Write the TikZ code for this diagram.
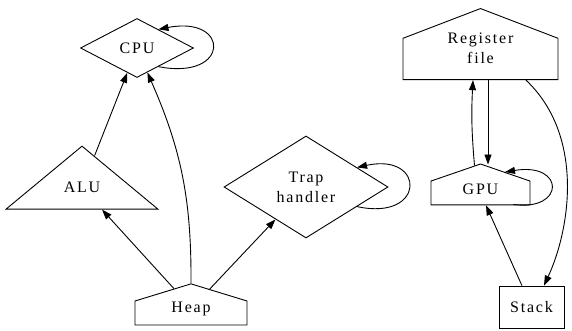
\documentclass[tikz,border=0pt]{standalone}
\usepackage{fontspec}
\setmainfont{Liberation Serif}[LetterSpace=11]
\usetikzlibrary{shapes.geometric,shapes.symbols,arrows.meta}

\tikzset{
  box/.style={draw, line width=0.9pt, inner sep=0pt, align=center,
    font=\fontsize{16}{20}\selectfont},
  house/.style={box, signal, signal to=north},
  link/.style={line width=0.9pt, -{Triangle[length=10pt,width=7pt]}}
}

\begin{document}
\begin{tikzpicture}[x=1pt,y=-1pt]
\useasboundingbox (0,0) rectangle (572,331);

% Left group: CPU, ALU, Trap handler fed from the Heap
\node[box, diamond, aspect=1.9, minimum width=113pt, minimum height=59pt] (cpu) at (137,48) {CPU};
\node[box, isosceles triangle, shape border rotate=90, isosceles triangle stretches,
  minimum width=152pt, minimum height=63pt, anchor=apex] (alu) at (82,145) {ALU};
\node[box, diamond, aspect=1.6, minimum width=164pt, minimum height=102pt] (trap) at (306,187) {Trap\\handler};
\node[house, signal pointer angle=146, minimum width=112pt, minimum height=30pt,
  text height=5pt, text depth=7pt] (heap) at (191,313) {Heap};

 \draw[link] (heap.125) -- (alu);
 \draw[link] (alu) -- (cpu);
 \draw[link] (heap.north) to[bend right=12] (cpu.-67);
 \draw[link] (heap.52) -- (trap);
 \draw[link] (cpu.-41) .. controls +(72,14) and +(72,-14) .. (cpu.41); % self loop
 \draw[link] (trap.-21) .. controls +(69,15) and +(69,-15) .. (trap.21); % self loop

% Right group: Register file, GPU, Stack
\node[house, signal pointer angle=138, minimum width=155pt, minimum height=50pt,
  text height=25pt, text depth=16.4pt] (reg) at (480.5,59) {Register\\file};
\node[house, signal pointer angle=142, minimum width=99pt, minimum height=30pt,
  text height=6pt, text depth=4pt] (gpu) at (480.5,193) {GPU};
\node[box, rectangle, minimum width=65pt, minimum height=42pt] (stack) at (531.5,307) {Stack};

 \draw[link] ([xshift=-6pt,yshift=-2pt]gpu.north) to[bend left=4] ([xshift=-7.5pt]reg.south);
 \draw[link] ([xshift=7.5pt]reg.south) -- ([xshift=7.5pt,yshift=-1pt]gpu.north);
 \draw[link] (stack) -- (gpu);
 \draw[link] ([xshift=45.5pt]reg.south) .. controls +(59,56) and +(26,-56) .. ([xshift=12.5pt]stack.north);
 \draw[link] ([xshift=-17pt]gpu.south east) .. controls +(52,7) and +(60,-10) .. ([xshift=24.5pt,yshift=-8.5pt]gpu.north); % self loop

\end{tikzpicture}
\end{document}
